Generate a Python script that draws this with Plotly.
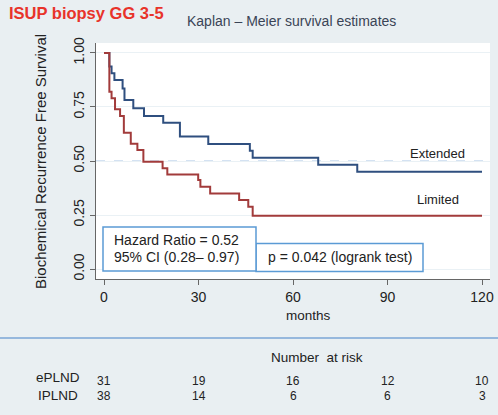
import plotly.graph_objects as go

# Kaplan-Meier curves (months, survival)
ext_months = [0, 1.7, 2.4, 3.3, 5.9, 6.5, 9.3, 12.7, 18.8, 24.1, 33.1, 46.3, 47.2, 68.0, 80.4, 120]
ext_surv = [1.0, 0.937, 0.906, 0.875, 0.836, 0.782, 0.744, 0.708, 0.677, 0.613, 0.579, 0.548, 0.515, 0.483, 0.450, 0.450]

lim_months = [0, 1.7, 2.4, 3.5, 5.1, 6.3, 8.5, 10.6, 12.5, 18.6, 20.1, 29.9, 30.6, 33.7, 42.9, 45.8, 47.2, 120]
lim_surv = [1.0, 0.82, 0.79, 0.739, 0.708, 0.631, 0.58, 0.551, 0.497, 0.466, 0.438, 0.412, 0.381, 0.35, 0.319, 0.288, 0.247, 0.247]

# number at risk table
risk_times = [0, 30, 60, 90, 120]
risk_eplnd = [31, 19, 16, 12, 10]
risk_iplnd = [38, 14, 6, 6, 3]

x_ticks = [0, 30, 60, 90, 120]
y_ticks = [0, 0.25, 0.5, 0.75, 1.0]
y_ticklabels = ["0.00", "0.25", "0.50", "0.75", "1.00"]

bg = "#e9eff2"
blue = "#2f4f7f"
red = "#a23b3b"
box_col = "#5b9bd5"
txt = "#222222"

fig = go.Figure()
fig.add_trace(go.Scatter(x=ext_months, y=ext_surv, mode="lines", line_shape="hv",
                         line=dict(color=blue, width=2), name="Extended"))
fig.add_trace(go.Scatter(x=lim_months, y=lim_surv, mode="lines", line_shape="hv",
                         line=dict(color=red, width=2), name="Limited"))

# dashed median line
fig.add_shape(type="line", xref="paper", yref="y", x0=0, x1=1, y0=0.5, y1=0.5,
              line=dict(color="#a9c4e4", width=1, dash="dash"), layer="below")


# pixel -> paper coords, plot area is 96..490 x 43..279
def px(x):
    return (x - 96) / 394


def py(y):
    return (279 - y) / 236


# p-value box and HR box
fig.add_shape(type="rect", xref="paper", yref="paper", x0=px(256), x1=px(423), y0=py(271.5), y1=py(243.5),
              line=dict(color=box_col, width=1.5), fillcolor="white")
fig.add_shape(type="rect", xref="paper", yref="paper", x0=px(103), x1=px(256), y0=py(271), y1=py(227),
              line=dict(color=box_col, width=1.5), fillcolor="white")

ann = []
ann.append(dict(x=px(112), y=py(240), xref="paper", yref="paper", text="Hazard Ratio = 0.52",
                xanchor="left", yanchor="middle", showarrow=False, font=dict(size=14, color=txt)))
ann.append(dict(x=px(112), y=py(257), xref="paper", yref="paper", text="95% CI (0.28– 0.97)",
                xanchor="left", yanchor="middle", showarrow=False, font=dict(size=14, color=txt)))
ann.append(dict(x=px(266), y=py(257), xref="paper", yref="paper", text="p = 0.042 (logrank test)",
                xanchor="left", yanchor="middle", showarrow=False, font=dict(size=14, color=txt)))
ann.append(dict(x=106, y=0.537, xref="x", yref="y", text="Extended",
                showarrow=False, font=dict(size=13, color=txt)))
ann.append(dict(x=106, y=0.32, xref="x", yref="y", text="Limited",
                showarrow=False, font=dict(size=13, color=txt)))

# titles outside the plot
ann.append(dict(x=px(7), y=py(13), xref="paper", yref="paper", text="<b>ISUP biopsy GG 3-5</b>",
                xanchor="left", yanchor="middle", showarrow=False,
                font=dict(size=16.5, color="#e8332a")))
ann.append(dict(x=px(291), y=py(21), xref="paper", yref="paper", text="Kaplan – Meier survival estimates",
                xanchor="center", yanchor="middle", showarrow=False, font=dict(size=14, color="#3a4456")))
ann.append(dict(x=px(40), y=py(162), xref="paper", yref="paper", text="Biochemical Recurrence Free Survival",
                textangle=-90, xanchor="center", yanchor="middle", showarrow=False,
                font=dict(size=15, color=txt)))
ann.append(dict(x=px(308), y=py(315), xref="paper", yref="paper", text="months", yanchor="middle",
                showarrow=False, font=dict(size=13.5, color=txt)))
ann.append(dict(x=px(317), y=py(357), xref="paper", yref="paper", text="Number  at risk", yanchor="middle",
                showarrow=False, font=dict(size=13.5, color=txt)))
ann.append(dict(x=px(82), y=py(377), xref="paper", yref="paper", text="ePLND", xanchor="right",
                yanchor="middle", showarrow=False, font=dict(size=13.5, color=txt)))
ann.append(dict(x=px(80), y=py(395), xref="paper", yref="paper", text="IPLND", xanchor="right",
                yanchor="middle", showarrow=False, font=dict(size=13.5, color=txt)))
for t, a, b in zip(risk_times, risk_eplnd, risk_iplnd):
    ann.append(dict(x=t, y=py(381), xref="x", yref="paper", text=str(a), yanchor="middle",
                    showarrow=False, font=dict(size=12, color=txt)))
    ann.append(dict(x=t, y=py(396), xref="x", yref="paper", text=str(b), yanchor="middle",
                    showarrow=False, font=dict(size=12, color=txt)))

# separator line above risk table
fig.add_shape(type="line", xref="paper", yref="paper", x0=px(0), x1=px(498), y0=py(338), y1=py(338),
              line=dict(color="#7aa6d6", width=1.5))

fig.update_layout(
    width=498, height=415,
    margin=dict(l=96, r=8, t=43, b=136),
    paper_bgcolor=bg, plot_bgcolor="white",
    showlegend=False,
    font=dict(family="Liberation Sans, Arial", size=13, color=txt),
    annotations=ann,
    xaxis=dict(range=[-2.54, 122.54], tickvals=x_ticks, ticks="outside", ticklen=5,
               tickcolor="#666666", showgrid=False, zeroline=False, showline=True, automargin=False,
               linecolor="#666666", linewidth=1, tickfont=dict(size=14, color=txt)),
    yaxis=dict(range=[-0.046, 1.046], tickvals=y_ticks, ticktext=y_ticklabels, tickangle=-90,
               ticks="outside", ticklen=5, tickcolor="#666666", showgrid=True, automargin=False,
               gridcolor="#eaf1f5", zeroline=False, showline=True, linecolor="#666666",
               linewidth=1, tickfont=dict(size=14, color=txt)),
)

fig.write_html("out.html", config={"displayModeBar": False},
               post_script="document.body.style.margin='0';")
